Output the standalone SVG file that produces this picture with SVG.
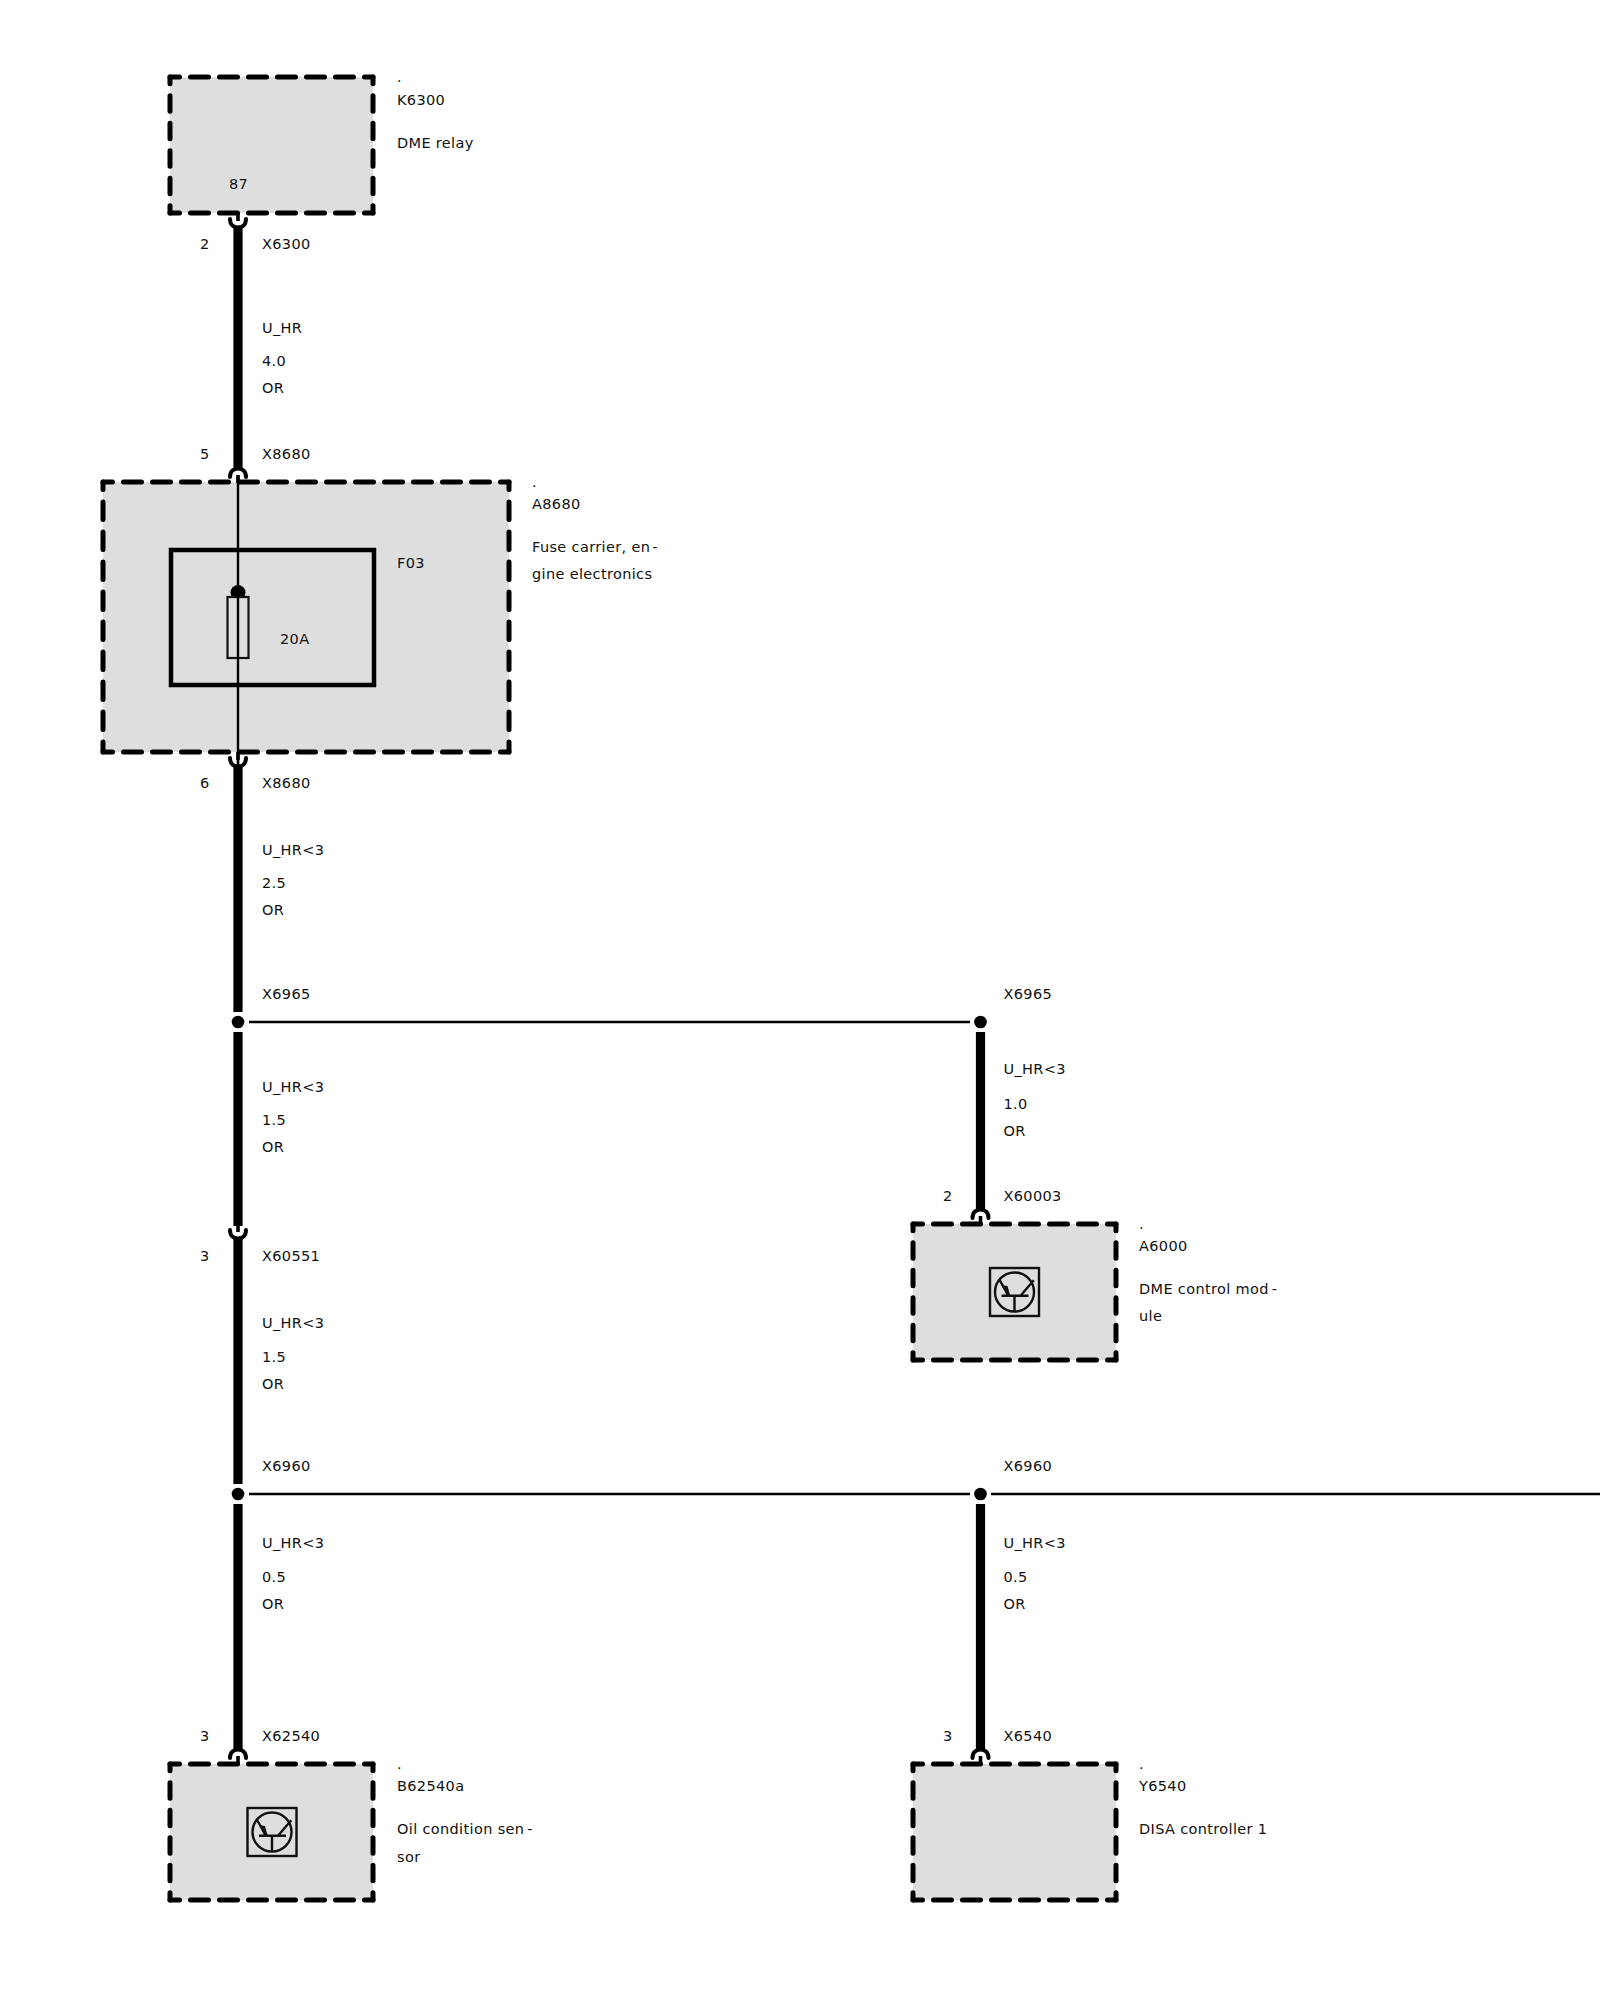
<svg xmlns="http://www.w3.org/2000/svg" xmlns:xlink="http://www.w3.org/1999/xlink" width="1600" height="2000" viewBox="0 0 1600 2000">
<style>
text{font-family:"DejaVu Sans","Liberation Sans",sans-serif;font-size:14.5px;letter-spacing:.35px;fill:#111;transform:translate(0,-.6px)}
.fill{fill:#dedede;stroke:none}
.dash{fill:none;stroke:#000;stroke-width:5;stroke-linecap:round}
.sh{stroke-dasharray:9.5 11 18 11 18 11 18 11 18 11 18 11 18 11 8.5}
.sv{stroke-dasharray:6.75 12 15.5 12 15.5 12 15.5 12 15.5 12 7.25}
.bh{stroke-dasharray:9.5 11 18 11 18 11 18 11 18 11 18 11 18 11 18 11 18 11 18 11 18 11 18 11 18 11 18 11 8.5}
.bv{stroke-dasharray:7.5 12.5 17.5 12.5 17.5 12.5 17.5 12.5 17.5 12.5 17.5 12.5 17.5 12.5 17.5 12.5 17.5 12.5 10}
.wire{fill:none;stroke:#000;stroke-width:9.2}
.thin{fill:none;stroke:#000;stroke-width:2.4}
.arc{fill:none;stroke:#000;stroke-width:4;stroke-linecap:round}
.stem{fill:none;stroke:#000;stroke-width:3.6}
.sym{fill:none;stroke:#111;stroke-width:2.4}
</style>
<defs>
<g id="box-small">
<rect class="fill" width="203" height="136"/>
<path class="dash sh" d="M0 0H203M0 136H203"/>
<path class="dash sv" d="M0 0V136M203 0V136"/>
</g>
<g id="plug-down">
<path class="stem" d="M0 -9V-1"/>
<path class="arc" d="M-8 -3C-8 3 -4 5.5 0 5.5C4 5.5 8 3 8 -3"/>
</g>
<g id="plug-up">
<path class="stem" d="M0 9V1"/>
<path class="arc" d="M-8 3C-8 -3 -4 -5.5 0 -5.5C4 -5.5 8 -3 8 3"/>
</g>
<g id="transistor">
<rect class="sym" x="-24.5" y="-24" width="49" height="48"/>
<circle class="sym" cx="0" cy="0" r="19.5"/>
<path class="sym" d="M-13 3.7H14M0 3.7V19M-15.5 -13L-6 3.7M19.3 -11.7L6 3.7"/>
<path d="M-13 -7L-7 -6L-4.5 3L-8 3Z" fill="#111"/>
</g>
</defs>

<g id="connectors">
<path class="wire" d="M238 226V469"/>
<path class="thin" d="M238 476V768"/>
<path class="wire" d="M238 766V1012"/>
<path class="wire" d="M238 1032V1226"/>
<path class="wire" d="M238 1238V1484"/>
<path class="wire" d="M238 1504V1750"/>
<path class="wire" d="M980.5 1032V1210"/>
<path class="wire" d="M980.5 1504V1750"/>
<path class="thin" d="M249 1022H970"/>
<path class="thin" d="M249 1494H970"/>
<path class="thin" d="M991 1494H1600"/>
</g>

<g id="k6300">
<use xlink:href="#box-small" href="#box-small" x="170" y="77"/>
<text x="397" y="83">.</text>
<text x="397" y="105.8">K6300</text>
<text x="397" y="148.8">DME relay</text>
<text x="229" y="190">87</text>
<use xlink:href="#plug-down" href="#plug-down" x="238" y="222"/>
<text x="200" y="249.8">2</text>
<text x="262" y="249.8">X6300</text>
<text x="262" y="334">U_HR</text>
<text x="262" y="367">4.0</text>
<text x="262" y="394">OR</text>
</g>

<g id="a8680">
<text x="200" y="460">5</text>
<text x="262" y="460">X8680</text>
<rect class="fill" x="103" y="482" width="406" height="270"/>
<path class="dash bh" d="M103 482H509M103 752H509"/>
<path class="dash bv" d="M103 482V752M509 482V752"/>
<rect x="171" y="550" width="203" height="135" fill="none" stroke="#000" stroke-width="4.5"/>
<circle cx="238" cy="592.5" r="7.5" fill="#000"/>
<rect x="227.5" y="597" width="21" height="61" fill="#dedede" stroke="#111" stroke-width="2.2"/>
<path class="thin" d="M238 476V768"/>
<use xlink:href="#plug-up" href="#plug-up" x="238" y="474"/>
<use xlink:href="#plug-down" href="#plug-down" x="238" y="761"/>
<text x="532" y="488">.</text>
<text x="532" y="510">A8680</text>
<text x="532" y="553">Fuse carrier, en<tspan dx="2">-</tspan></text>
<text x="532" y="580">gine electronics</text>
<text x="397" y="569">F03</text>
<text x="280" y="645">20A</text>
<text x="200" y="789">6</text>
<text x="262" y="789">X8680</text>
<text x="262" y="856">U_HR&lt;3</text>
<text x="262" y="889">2.5</text>
<text x="262" y="916">OR</text>
</g>

<g id="x6965-left">
<circle cx="238" cy="1022" r="6.3" fill="#000"/>
<text x="262" y="1000">X6965</text>
<text x="262" y="1093">U_HR&lt;3</text>
<text x="262" y="1126">1.5</text>
<text x="262" y="1153">OR</text>
</g>

<g id="x60551">
<use xlink:href="#plug-down" href="#plug-down" x="238" y="1233"/>
<text x="200" y="1262">3</text>
<text x="262" y="1262">X60551</text>
<text x="262" y="1329">U_HR&lt;3</text>
<text x="262" y="1363">1.5</text>
<text x="262" y="1390">OR</text>
</g>

<g id="x6960-left">
<circle cx="238" cy="1494" r="6.3" fill="#000"/>
<text x="262" y="1472">X6960</text>
<text x="262" y="1549">U_HR&lt;3</text>
<text x="262" y="1583">0.5</text>
<text x="262" y="1610">OR</text>
</g>

<g id="b62540a">
<text x="200" y="1742">3</text>
<text x="262" y="1742">X62540</text>
<use xlink:href="#box-small" href="#box-small" x="170" y="1764"/>
<use xlink:href="#plug-up" href="#plug-up" x="238" y="1755"/>
<use xlink:href="#transistor" href="#transistor" x="272" y="1832"/>
<text x="397" y="1770">.</text>
<text x="397" y="1792">B62540a</text>
<text x="397" y="1835">Oil condition sen<tspan dx="3">-</tspan></text>
<text x="397" y="1863">sor</text>
</g>

<g id="x6965-right">
<circle cx="980.5" cy="1022" r="6.3" fill="#000"/>
<text x="1003.5" y="1000">X6965</text>
<text x="1003.5" y="1075">U_HR&lt;3</text>
<text x="1003.5" y="1110">1.0</text>
<text x="1003.5" y="1137">OR</text>
</g>

<g id="a6000">
<text x="943" y="1202">2</text>
<text x="1003.5" y="1202">X60003</text>
<use xlink:href="#box-small" href="#box-small" x="913" y="1224"/>
<use xlink:href="#plug-up" href="#plug-up" x="980.5" y="1215"/>
<use xlink:href="#transistor" href="#transistor" x="1014.5" y="1292"/>
<text x="1139" y="1230">.</text>
<text x="1139" y="1252">A6000</text>
<text x="1139" y="1295">DME control mod<tspan dx="3">-</tspan></text>
<text x="1139" y="1322">ule</text>
</g>

<g id="x6960-right">
<circle cx="980.5" cy="1494" r="6.3" fill="#000"/>
<text x="1003.5" y="1472">X6960</text>
<text x="1003.5" y="1549">U_HR&lt;3</text>
<text x="1003.5" y="1583">0.5</text>
<text x="1003.5" y="1610">OR</text>
</g>

<g id="y6540">
<text x="943" y="1742">3</text>
<text x="1003.5" y="1742">X6540</text>
<use xlink:href="#box-small" href="#box-small" x="913" y="1764"/>
<use xlink:href="#plug-up" href="#plug-up" x="980.5" y="1755"/>
<text x="1139" y="1770">.</text>
<text x="1139" y="1792">Y6540</text>
<text x="1139" y="1835">DISA controller 1</text>
</g>
</svg>
